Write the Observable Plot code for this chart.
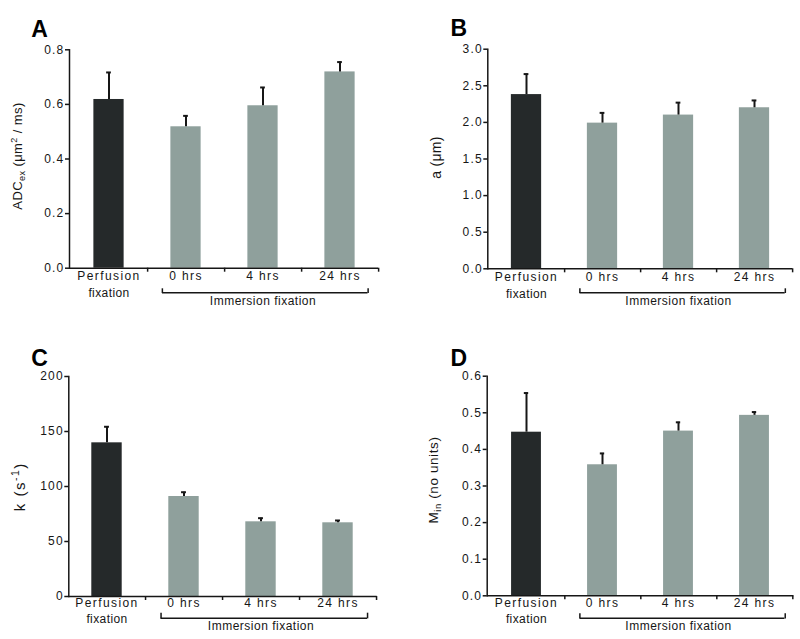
<!DOCTYPE html>
<html><head><meta charset="utf-8">
<script src="https://cdn.jsdelivr.net/npm/d3@7"></script>
<script src="https://cdn.jsdelivr.net/npm/@observablehq/plot@0.6"></script>
<style>
html,body{margin:0;padding:0;background:#fff;}
#fig{position:relative;width:800px;height:639px;overflow:hidden;font-family:"Liberation Sans",Arial,sans-serif;}
.panel{position:absolute;}
.panel svg{display:block;overflow:visible;}
.panel g[aria-label="y-axis tick label"] text{letter-spacing:1.2px;}
</style></head><body><div id="fig"></div>
<script>
// ---- data ----
const categories = ["Perfusion fixation", "0 hrs", "4 hrs", "24 hrs"];
const labelLine1 = ["Perfusion", "0 hrs", "4 hrs", "24 hrs"];
const labelLine2 = ["fixation", "", "", ""];
const groupLabel = "Immersion fixation";
const groupFrom = "0 hrs", groupTo = "24 hrs", groupCenter = "4 hrs";
const barColors = ["#25292a", "#8fa09c", "#8fa09c", "#8fa09c"];

const adcMean = [0.618, 0.518, 0.595, 0.719];
const adcErr  = [0.099, 0.040, 0.067, 0.036];
const adcTicks = [0, 0.2, 0.4, 0.6, 0.8];

const aMean = [2.38, 1.99, 2.10, 2.20];
const aErr  = [0.28, 0.14, 0.17, 0.10];
const aTicks = [0, 0.5, 1.0, 1.5, 2.0, 2.5, 3.0];

const kMean = [139.7, 90.9, 67.9, 67.0];
const kErr  = [14.6, 3.9, 3.3, 2.1];
const kTicks = [0, 50, 100, 150, 200];

const minMean = [0.447, 0.358, 0.450, 0.493];
const minErr  = [0.107, 0.031, 0.024, 0.009];
const minTicks = [0, 0.1, 0.2, 0.3, 0.4, 0.5, 0.6];

// ---- layout ----
const panels = [
  {id:"A", means:adcMean, errs:adcErr, ticks:adcTicks, fmt:".1f",
   ylab:[["ADC",0],["ex",1],[" (μm",0],["2",2],[" / ms)",0]], ylSize:13, ylSp:0.4, bx:21.7, cy:156,
   left:0, top:0, h:320, ml:69, mr:22, mt:49.3, mb:52.3, letterBase:27.5, letterX:30.7,
   l1:15.6, l2:33, br:24.6, brTop:20.6, grp:40.6, brIns:[15,10.5]},
  {id:"B", means:aMean, errs:aErr, ticks:aTicks, fmt:".1f",
   ylab:[["a (μm)",0]], ylSize:14, ylSp:0.3, bx:40.7, cy:157.5,
   left:400, top:0, h:320, ml:87.3, mr:7.7, mt:48.7, mb:51.7, letterBase:27, letterX:50,
   l1:15.7, l2:33, br:24, brTop:20, grp:40, brIns:[15.5,7.3]},
  {id:"C", means:kMean, errs:kErr, ticks:kTicks, fmt:"d",
   ylab:[["k (s",0],["-1",2],[")",0]], ylSize:15, ylSp:1.5, bx:25, cy:166.7,
   left:0, top:320, h:319, ml:68.3, mr:23.3, mt:56, mb:43, letterBase:37, letterX:30.7,
   l1:14, l2:30.7, br:21.7, brTop:16.7, grp:37.3, brIns:[15.6,9]},
  {id:"D", means:minMean, errs:minErr, ticks:minTicks, fmt:".1f",
   ylab:[["M",0],["in",1],[" (no units)",0]], ylSize:13.5, ylSp:0.6, bx:37.7, cy:160,
   left:400, top:320, h:319, ml:86.7, mr:6.7, mt:55.7, mb:43.7, letterBase:36.7, letterX:50,
   l1:14.7, l2:31.4, br:22.4, brTop:18, grp:38, brIns:[15.7,7.6]}
];

const ink = "#161616";
const fig = document.getElementById("fig");
const W = 400, barW = 30.5, capW = 5;

for (const p of panels) {
  const rows = categories.map((c, i) => ({cat:c, mean:p.means[i], err:p.errs[i], color:barColors[i], l1:labelLine1[i], l2:labelLine2[i]}));
  const bw = (W - p.ml - p.mr) / categories.length;
  const inset = (bw - barW) / 2, capInset = (bw - capW) / 2;
  const fs = 12, mid = 0.32 * fs;
  const brackets = [{from:groupFrom, to:groupTo, center:groupCenter, label:groupLabel}];
  const svg = Plot.plot({
    width: W, height: p.h,
    marginLeft: p.ml, marginRight: p.mr, marginTop: p.mt, marginBottom: p.mb,
    x: {type:"band", domain:categories, padding:0, axis:null},
    y: {domain:[p.ticks[0], p.ticks[p.ticks.length-1]], axis:null},
    color: {type:"identity"},
    style: {fontFamily:'"Liberation Sans", Arial, sans-serif', fontSize:"12px", color:ink, background:"white", overflow:"visible"},
    marks: [
      Plot.barY(rows, {x:"cat", y:"mean", fill:"color", insetLeft:inset, insetRight:inset}),
      Plot.ruleX(rows, {x:"cat", y1:"mean", y2:d => d.mean + d.err, stroke:ink, strokeWidth:2}),
      Plot.tickY(rows, {x:"cat", y:d => d.mean + d.err, stroke:ink, strokeWidth:2, insetLeft:capInset, insetRight:capInset}),
      Plot.frame({anchor:"left", stroke:ink, strokeWidth:1.5}),
      Plot.ruleY([0], {stroke:ink, strokeWidth:1.5}),
      Plot.axisY({ticks:p.ticks, tickFormat:d3.format(p.fmt), tickSize:4, tickPadding:1, label:null, stroke:ink, strokeWidth:1.5, fill:ink, fontSize:12}),
      Plot.axisX({tickSize:4, tickFormat:() => "", dx:bw/2, label:null, stroke:ink, strokeWidth:1.5}),
      Plot.text([p.id], {frameAnchor:"top-left", text:d => d, textAnchor:"start", dx:p.letterX - p.ml, dy:p.letterBase - 0.32*23 - p.mt, fontSize:23, fontWeight:"bold", fill:"#000"}),
      Plot.text(rows, {x:"cat", text:"l1", frameAnchor:"bottom", dy:p.l1 - mid, fill:ink}),
      Plot.text(rows, {x:"cat", text:"l2", frameAnchor:"bottom", dy:p.l2 - mid, fill:ink}),
      Plot.text(brackets, {x:"center", text:"label", frameAnchor:"bottom", dy:p.grp - mid, fill:ink}),
      Plot.ruleY(brackets, {x1:"from", x2:"to", y:() => 0, dy:p.br, insetLeft:p.brIns[0], insetRight:p.brIns[1], stroke:ink, strokeWidth:1.5}),
      Plot.ruleX(brackets, {x:"from", y1:() => 0, y2:() => 0, dx:-bw/2 + p.brIns[0], insetTop:p.brTop, insetBottom:-p.br - 0.7, stroke:ink, strokeWidth:1.5}),
      Plot.ruleX(brackets, {x:"to", y1:() => 0, y2:() => 0, dx:bw/2 - p.brIns[1], insetTop:p.brTop, insetBottom:-p.br - 0.7, stroke:ink, strokeWidth:1.5})
    ]
  });
  // letter spacing for the x label rows
  const tg = d3.select(svg).selectAll('g[aria-label="text"]').nodes();
  if (tg.length >= 4) {
    d3.select(tg[1]).style("letter-spacing", "1.4px");
    d3.select(tg[2]).style("letter-spacing", "0.4px");
    d3.select(tg[3]).style("letter-spacing", "0.5px");
  }
  // y-axis title with sub/superscripts
  const t = d3.select(svg).append("text")
    .attr("transform", `translate(${p.bx},${p.cy}) rotate(-90)`)
    .attr("text-anchor", "middle")
    .attr("fill", ink)
    .style("font-size", p.ylSize + "px")
    .style("letter-spacing", p.ylSp + "px");
  let shift = 0;
  for (const [s, kind] of p.ylab) {
    const target = kind === 1 ? 0.25 * p.ylSize : kind === 2 ? -0.4 * p.ylSize : 0;
    t.append("tspan").attr("dy", target - shift)
      .style("font-size", kind ? (p.ylSize * 0.7) + "px" : null)
      .text(s);
    shift = target;
  }
  const div = document.createElement("div");
  div.className = "panel";
  div.style.left = p.left + "px";
  div.style.top = p.top + "px";
  div.appendChild(svg);
  fig.appendChild(div);
}
</script></body></html>
